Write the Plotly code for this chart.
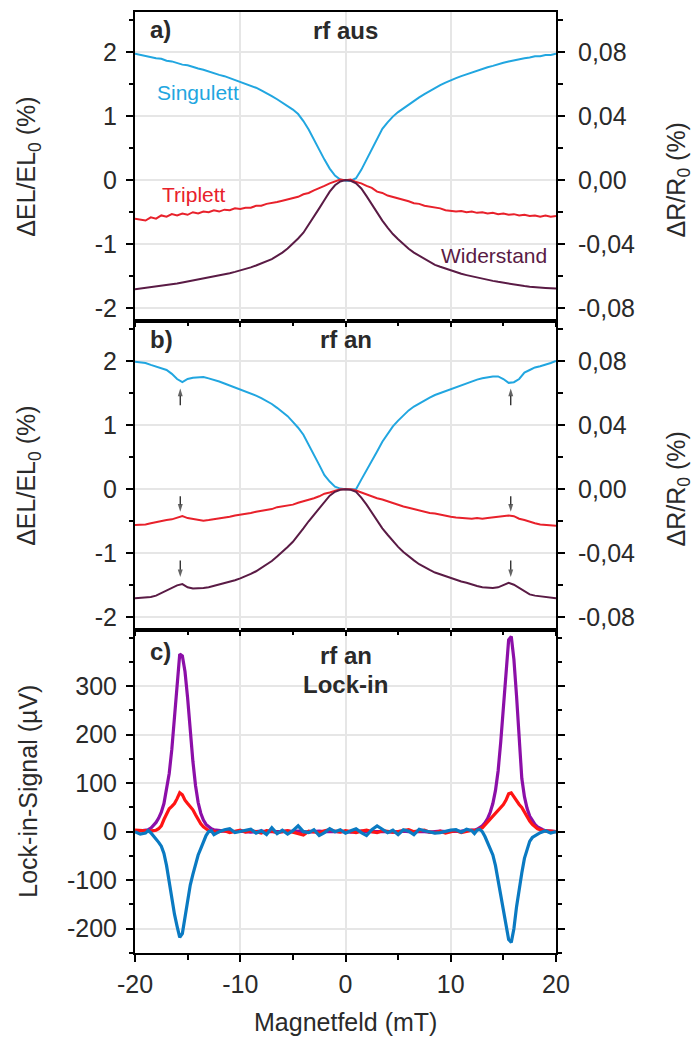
import plotly.graph_objects as go

# ---------------- data ----------------
# Magnetic field grid for panels a) and b) (mT)
field_ab = [-20, -19.5, -19, -18.5, -18, -17.5, -17, -16.5, -16, -15.5,
            -15, -14.5, -14, -13.5, -13, -12.5, -12, -11.5, -11, -10.5,
            -10, -9.5, -9, -8.5, -8, -7.5, -7, -6.5, -6, -5.5,
            -5, -4.5, -4, -3.5, -3, -2.5, -2, -1.5, -1, -0.5,
            0, 0.5, 1, 1.5, 2, 2.5, 3, 3.5, 4, 4.5,
            5, 5.5, 6, 6.5, 7, 7.5, 8, 8.5, 9, 9.5,
            10, 10.5, 11, 11.5, 12, 12.5, 13, 13.5, 14, 14.5,
            15, 15.5, 16, 16.5, 17, 17.5, 18, 18.5, 19, 19.5, 20]

# a) rf off: electroluminescence change (%) and resistance change (%)
singulett_aus = [1.97, 1.95, 1.94, 1.92, 1.90, 1.89, 1.86, 1.85, 1.82, 1.80,
                 1.79, 1.76, 1.74, 1.72, 1.69, 1.67, 1.64, 1.62, 1.59, 1.57,
                 1.54, 1.51, 1.47, 1.44, 1.40, 1.36, 1.31, 1.26, 1.21, 1.16,
                 1.10, 1.03, 0.92, 0.79, 0.63, 0.47, 0.32, 0.18, 0.07, 0.01,
                 -0.01, -0.01, 0.03, 0.16, 0.32, 0.50, 0.66, 0.80, 0.90, 0.99,
                 1.06, 1.12, 1.18, 1.24, 1.29, 1.34, 1.39, 1.44, 1.48, 1.52,
                 1.56, 1.59, 1.62, 1.65, 1.68, 1.71, 1.74, 1.76, 1.78, 1.81,
                 1.83, 1.85, 1.87, 1.88, 1.90, 1.91, 1.93, 1.93, 1.95, 1.95, 1.97]
triplett_aus = [-0.60, -0.62, -0.63, -0.58, -0.60, -0.55, -0.57, -0.53, -0.55, -0.52,
                -0.54, -0.50, -0.52, -0.49, -0.50, -0.47, -0.49, -0.46, -0.47, -0.44,
                -0.45, -0.43, -0.43, -0.40, -0.40, -0.37, -0.36, -0.34, -0.32, -0.30,
                -0.28, -0.26, -0.22, -0.20, -0.16, -0.13, -0.09, -0.05, -0.02, 0.01,
                0.00, 0.01, -0.03, -0.05, -0.09, -0.12, -0.18, -0.20, -0.24, -0.26,
                -0.29, -0.31, -0.33, -0.36, -0.37, -0.40, -0.41, -0.43, -0.44, -0.47,
                -0.48, -0.49, -0.48, -0.50, -0.49, -0.51, -0.50, -0.52, -0.51, -0.53,
                -0.52, -0.54, -0.53, -0.55, -0.54, -0.56, -0.55, -0.57, -0.55, -0.57, -0.56]
widerstand_aus = [-0.0680, -0.0676, -0.0672, -0.0668, -0.0664, -0.0658, -0.0652, -0.0648, -0.0644, -0.0638,
                  -0.0632, -0.0626, -0.0620, -0.0612, -0.0604, -0.0598, -0.0592, -0.0586, -0.0580, -0.0572,
                  -0.0564, -0.0554, -0.0544, -0.0532, -0.0520, -0.0506, -0.0492, -0.0472, -0.0452, -0.0426,
                  -0.0396, -0.0364, -0.0328, -0.0280, -0.0228, -0.0176, -0.0124, -0.0072, -0.0032, -0.0008,
                  0.0000, -0.0004, -0.0020, -0.0052, -0.0100, -0.0152, -0.0200, -0.0252, -0.0296, -0.0336,
                  -0.0368, -0.0400, -0.0428, -0.0452, -0.0472, -0.0492, -0.0512, -0.0528, -0.0540, -0.0552,
                  -0.0564, -0.0576, -0.0584, -0.0592, -0.0600, -0.0608, -0.0616, -0.0622, -0.0628, -0.0634,
                  -0.0640, -0.0646, -0.0652, -0.0656, -0.0660, -0.0664, -0.0668, -0.0670, -0.0672, -0.0674, -0.0676]

# b) rf on
singulett_an = [1.99, 1.98, 1.97, 1.94, 1.91, 1.89, 1.86, 1.80, 1.72, 1.67,
                1.72, 1.74, 1.75, 1.75, 1.73, 1.71, 1.68, 1.65, 1.62, 1.59,
                1.56, 1.53, 1.49, 1.46, 1.42, 1.38, 1.33, 1.27, 1.21, 1.14,
                1.05, 0.96, 0.85, 0.70, 0.54, 0.38, 0.22, 0.12, 0.04, 0.01,
                0.00, 0.00, 0.00, 0.15, 0.29, 0.43, 0.59, 0.74, 0.87, 0.98,
                1.07, 1.15, 1.23, 1.29, 1.34, 1.39, 1.43, 1.47, 1.50, 1.54,
                1.57, 1.60, 1.63, 1.66, 1.68, 1.71, 1.73, 1.75, 1.76, 1.76,
                1.72, 1.66, 1.67, 1.72, 1.82, 1.86, 1.90, 1.92, 1.94, 1.97, 2.00]
triplett_an = [-0.56, -0.56, -0.55, -0.53, -0.51, -0.50, -0.48, -0.47, -0.44, -0.42,
               -0.45, -0.46, -0.48, -0.49, -0.48, -0.47, -0.45, -0.44, -0.43, -0.41,
               -0.40, -0.38, -0.37, -0.35, -0.34, -0.32, -0.31, -0.28, -0.27, -0.25,
               -0.24, -0.21, -0.19, -0.17, -0.14, -0.11, -0.07, -0.05, -0.02, 0.00,
               0.00, 0.00, -0.02, -0.05, -0.09, -0.11, -0.14, -0.16, -0.19, -0.21,
               -0.24, -0.27, -0.29, -0.31, -0.34, -0.35, -0.37, -0.38, -0.40, -0.42,
               -0.43, -0.44, -0.45, -0.46, -0.46, -0.45, -0.46, -0.45, -0.44, -0.44,
               -0.43, -0.41, -0.42, -0.46, -0.48, -0.51, -0.53, -0.55, -0.56, -0.57, -0.57]
widerstand_an = [-0.0680, -0.0678, -0.0676, -0.0672, -0.0664, -0.0648, -0.0632, -0.0616, -0.0600, -0.0592,
                 -0.0612, -0.0620, -0.0620, -0.0616, -0.0612, -0.0604, -0.0596, -0.0584, -0.0576, -0.0568,
                 -0.0556, -0.0544, -0.0528, -0.0512, -0.0492, -0.0472, -0.0448, -0.0420, -0.0392, -0.0360,
                 -0.0328, -0.0288, -0.0244, -0.0200, -0.0160, -0.0116, -0.0076, -0.0040, -0.0016, -0.0004,
                 0.0000, -0.0004, -0.0016, -0.0052, -0.0096, -0.0148, -0.0200, -0.0244, -0.0284, -0.0324,
                 -0.0360, -0.0392, -0.0420, -0.0444, -0.0468, -0.0488, -0.0504, -0.0520, -0.0532, -0.0544,
                 -0.0556, -0.0568, -0.0576, -0.0584, -0.0596, -0.0604, -0.0612, -0.0616, -0.0616, -0.0612,
                 -0.0600, -0.0584, -0.0596, -0.0616, -0.0640, -0.0656, -0.0664, -0.0668, -0.0672, -0.0676, -0.0680]

# Resonance markers in b): field position, arrow tail and tip (ΔEL/EL0 units)
marker_fields = [-15.7, 15.7]
marker_tails = [1.31, -0.11, -1.11]
marker_tips = [1.57, -0.35, -1.37]

# c) lock-in signal (µV); finer grid around the resonances
field_c = [-20, -19.5,
           -19, -18.75, -18.5, -18.25, -18, -17.75, -17.5, -17.25, -17, -16.75,
           -16.5, -16.25, -16, -15.75, -15.5, -15.25, -15, -14.75, -14.5, -14.25,
           -14, -13.75, -13.5, -13.25, -13, -12.75, -12.5, -12.25, -12,
           -11.5, -11, -10.5, -10, -9.5, -9, -8.5, -8, -7.5, -7, -6.5, -6, -5.5,
           -5, -4.5, -4, -3.5, -3, -2.5, -2, -1.5, -1, -0.5, 0, 0.5, 1, 1.5, 2,
           2.5, 3, 3.5, 4, 4.5, 5, 5.5, 6, 6.5, 7, 7.5, 8, 8.5, 9, 9.5, 10, 10.5,
           11, 11.5,
           12, 12.25, 12.5, 12.75, 13, 13.25, 13.5, 13.75, 14, 14.25, 14.5, 14.75,
           15, 15.25, 15.5, 15.75, 16, 16.25, 16.5, 16.75, 17, 17.25, 17.5, 17.75,
           18, 18.25, 18.5, 18.75, 19,
           19.5, 20]
lockin_widerstand = [0, 1,
                     2, 4, 7, 12, 19, 28, 40, 58, 85, 120,
                     170, 235, 300, 366, 362, 330, 275, 208, 145, 95,
                     60, 38, 24, 15, 10, 6, 4, 3, 2,
                     1, 1, 0, 1, 0, -1, 0, 1, 0, 0, -1, 0, 1,
                     0, 1, 0, -1, 0, 1, 0, 0, 1, 0, 0, -1, 0, 1, 0,
                     0, 1, 0, 0, -1, 0, 1, 0, 0, 1, 0, -1, 0, 1, 0, 0, 1,
                     1, 2,
                     2, 3, 5, 8, 12, 18, 27, 40, 58, 85, 125, 185,
                     260, 340, 395, 402, 355, 280, 200, 110, 72, 48, 32, 22,
                     15, 10, 6, 4, 2,
                     1, 0]
lockin_triplett = [3, 2,
                   2, 0, 1, 2, 3, 6, 12, 25, 38, 47,
                   52, 58, 68, 80, 76, 65, 58, 52, 45, 35,
                   25, 16, 10, 5, 2, 0, 1, -1, 0,
                   2, -2, 1, 3, -1, 2, 0, -3, 2, 1, -2, 0, 2,
                   -1, -4, -7, 1, 0, -2, 2, 4, 1, -1, 2, 0, -2, 1, 3,
                   0, -2, 2, 1, -1, 0, 2, 4, 0, 1, 3, -1, -2, 1, -3, 0, 2,
                   -2, 1,
                   3, 2, 4, 5, 8, 14, 20, 26, 32, 38, 45, 50,
                   56, 65, 78, 80, 72, 62, 56, 50, 40, 30, 22, 15,
                   10, 6, 4, 2, 1,
                   1, 0]
lockin_singulett = [0, -5,
                    -3, 2, -2, -8, -15, -22, -30, -45, -70, -105,
                    -140, -170, -195, -218, -210, -175, -140, -110, -88, -65,
                    -48, -35, -22, -8, 0, 2, -6, -2, 0,
                    4, 6, -2, 0, 3, 5, -3, 2, -6, 8, -4, 3, -5,
                    2, 12, 0, -2, 4, -8, -2, 6, 0, 4, -3, 2, 6, -2, -8,
                    4, 12, 5, -2, 3, -6, 4, 1, -6, 5, 2, 0, -3, -2, 1, 3, 4,
                    -1, 5,
                    2, -4, 3, 5, 0, -10, -22, -35, -48, -70, -100, -125,
                    -160, -190, -222, -228, -200, -155, -115, -85, -55, -35, -20, -12,
                    -8, -5, -2, 0, 2,
                    -3, 0]

# Tick values / labels
x_ticks = [-20, -10, 0, 10, 20]
x_ticktext = ["-20", "-10", "0", "10", "20"]
x_minor = [-15, -5, 5, 15]
el_ticks = [-2, -1, 0, 1, 2]
el_ticktext = ["-2", "-1", "0", "1", "2"]
el_minor = [-1.5, -0.5, 0.5, 1.5, 2.5]
r_ticks = [-0.08, -0.04, 0.0, 0.04, 0.08]
r_ticktext = ["-0,08", "-0,04", "0,00", "0,04", "0,08"]
r_minor = [-0.06, -0.02, 0.02, 0.06, 0.10]
li_ticks = [-200, -100, 0, 100, 200, 300]
li_ticktext = ["-200", "-100", "0", "100", "200", "300"]
li_minor = [-250, -150, -50, 50, 150, 250, 350, 400]

# ---------------- styling ----------------
C_SING = "#21A6E0"
C_TRIP = "#E8212B"
C_WID = "#5A1B45"
C_LI_W = "#8C0FA8"
C_LI_T = "#FF1414"
C_LI_S = "#0A7AC2"
FONT = "Liberation Sans, Arial, sans-serif"
TXT = "#2a2a2a"
GRID = "#E6E6E6"

EL_RANGE = [-2.2, 2.62]
R_RANGE = [EL_RANGE[0] * 0.04, EL_RANGE[1] * 0.04]
LI_RANGE = [-250, 415]

DOM_C = [0.0, 0.343]
DOM_B = [0.343, 0.6713]
DOM_A = [0.6713, 1.0]

fig = go.Figure()

line_ab = 2.0
line_c = 3.2

# panel a
fig.add_trace(go.Scatter(x=field_ab, y=singulett_aus, mode="lines", xaxis="x3", yaxis="y4",
                         line=dict(color=C_SING, width=line_ab)))
fig.add_trace(go.Scatter(x=field_ab, y=triplett_aus, mode="lines", xaxis="x3", yaxis="y4",
                         line=dict(color=C_TRIP, width=line_ab)))
fig.add_trace(go.Scatter(x=field_ab, y=widerstand_aus, mode="lines", xaxis="x3", yaxis="y5",
                         line=dict(color=C_WID, width=line_ab)))
# panel b
fig.add_trace(go.Scatter(x=field_ab, y=singulett_an, mode="lines", xaxis="x2", yaxis="y2",
                         line=dict(color=C_SING, width=line_ab)))
fig.add_trace(go.Scatter(x=field_ab, y=triplett_an, mode="lines", xaxis="x2", yaxis="y2",
                         line=dict(color=C_TRIP, width=line_ab)))
fig.add_trace(go.Scatter(x=field_ab, y=widerstand_an, mode="lines", xaxis="x2", yaxis="y3",
                         line=dict(color=C_WID, width=line_ab)))
# resonance arrows in panel b
for fx in marker_fields:
    for tail, tip in zip(marker_tails, marker_tips):
        fig.add_trace(go.Scatter(
            x=[fx, fx], y=[tail, tip], mode="lines+markers", xaxis="x2", yaxis="y2",
            line=dict(color="#222222", width=1.3),
            marker=dict(symbol="arrow", angleref="previous", size=[0, 8],
                        color="#222222", line=dict(width=0)),
            hoverinfo="skip"))
# panel c
fig.add_trace(go.Scatter(x=field_c, y=lockin_widerstand, mode="lines", xaxis="x", yaxis="y",
                         line=dict(color=C_LI_W, width=line_c)))
fig.add_trace(go.Scatter(x=field_c, y=lockin_triplett, mode="lines", xaxis="x", yaxis="y",
                         line=dict(color=C_LI_T, width=line_c)))
fig.add_trace(go.Scatter(x=field_c, y=lockin_singulett, mode="lines", xaxis="x", yaxis="y",
                         line=dict(color=C_LI_S, width=line_c)))

tickfont = dict(family=FONT, size=25, color=TXT)


def x_axis(anchor, labels, ticklen):
    return dict(
        domain=[0, 1], anchor=anchor, range=[-20, 20],
        tickmode="array", tickvals=x_ticks, ticktext=x_ticktext,
        showticklabels=labels, ticks="outside", ticklen=ticklen, tickwidth=2,
        tickcolor="black", tickfont=tickfont, ticklabelstandoff=1,
        minor=dict(tickmode="array", tickvals=x_minor, ticks="outside",
                   ticklen=max(ticklen - 2, 3), tickwidth=2, tickcolor="black", showgrid=False),
        showline=True, linecolor="black", linewidth=2, mirror=True,
        showgrid=True, gridcolor=GRID, gridwidth=1.5, zeroline=False,
    )


def y_left(anchor, domain, rng, vals, text, minor, mirror=True):
    return dict(
        domain=domain, anchor=anchor, range=rng, side="left",
        tickmode="array", tickvals=vals, ticktext=text,
        ticks="outside", ticklen=7, tickwidth=2, tickcolor="black",
        tickfont=tickfont, ticklabelstandoff=4,
        minor=dict(tickmode="array", tickvals=minor, ticks="outside", ticklen=4,
                   tickwidth=2, tickcolor="black", showgrid=False),
        showline=True, linecolor="black", linewidth=2, mirror=mirror,
        showgrid=True, gridcolor=GRID, gridwidth=1.5, zeroline=False,
    )


def y_right(anchor, overlay, rng):
    return dict(
        anchor=anchor, overlaying=overlay, side="right", range=rng,
        tickmode="array", tickvals=r_ticks, ticktext=r_ticktext,
        ticks="outside", ticklen=7, tickwidth=2, tickcolor="black",
        tickfont=tickfont, ticklabelstandoff=8,
        minor=dict(tickmode="array", tickvals=r_minor, ticks="outside", ticklen=5,
                   tickwidth=2, tickcolor="black", showgrid=False),
        showline=True, linecolor="black", linewidth=2,
        showgrid=False, zeroline=False,
    )


fig.update_layout(
    width=694, height=1041,
    margin=dict(l=135, r=138, t=10, b=88),
    paper_bgcolor="white", plot_bgcolor="white",
    showlegend=False,
    xaxis=x_axis("y", True, 7),
    xaxis2=x_axis("y2", False, 4),
    xaxis3=x_axis("y4", False, 4),
    yaxis=y_left("x", DOM_C, LI_RANGE, li_ticks, li_ticktext, li_minor, mirror="allticks"),
    yaxis2=y_left("x2", DOM_B, EL_RANGE, el_ticks, el_ticktext, el_minor, mirror=False),
    yaxis3=y_right("x2", "y2", R_RANGE),
    yaxis4=y_left("x3", DOM_A, EL_RANGE, el_ticks, el_ticktext, el_minor, mirror=False),
    yaxis5=y_right("x3", "y4", R_RANGE),
)

ann = []
title_font = dict(family=FONT, size=25, color=TXT)
lab_font = dict(family=FONT, size=24, color=TXT)


def mid(d):
    return (d[0] + d[1]) / 2


# axis titles
for dom in (DOM_A, DOM_B):
    ann.append(dict(text="ΔEL/EL<sub>0</sub> (%)", xref="paper", yref="paper", x=-0.254, y=mid(dom),
                    textangle=-90, showarrow=False, font=title_font, xanchor="center", yanchor="middle"))
    ann.append(dict(text="ΔR/R<sub>0</sub> (%)", xref="paper", yref="paper", x=1.29, y=mid(dom) - 0.0145,
                    textangle=-90, showarrow=False, font=title_font, xanchor="center", yanchor="middle"))
ann.append(dict(text="Lock-in-Signal (µV)", xref="paper", yref="paper", x=-0.254, y=mid(DOM_C),
                textangle=-90, showarrow=False, font=title_font, xanchor="center", yanchor="middle"))
ann.append(dict(text="Magnetfeld (mT)", xref="paper", yref="paper", x=0.5, y=-0.0735,
                showarrow=False, font=title_font, xanchor="center", yanchor="middle"))

# panel labels and headings
for lbl, yy in (("a)", 0.9815), ("b)", 0.652), ("c)", 0.3205)):
    ann.append(dict(text=f"<b>{lbl}</b>", xref="paper", yref="paper", x=0.031, y=yy,
                    showarrow=False, font=lab_font, xanchor="left", yanchor="middle"))
for txt, yy in (("rf aus", 0.9806), ("rf an", 0.652), ("rf an", 0.3157), ("Lock-in", 0.2851)):
    ann.append(dict(text=f"<b>{txt}</b>", xref="paper", yref="paper", x=0.5, y=yy,
                    showarrow=False, font=lab_font, xanchor="center", yanchor="middle"))

# curve names in panel a
curve_font = dict(family=FONT, size=21)
ann.append(dict(text="Singulett", xref="x3", yref="y4", x=-14.06, y=1.37, showarrow=False,
                font=dict(curve_font, color=C_SING)))
ann.append(dict(text="Triplett", xref="x3", yref="y4", x=-14.4, y=-0.23, showarrow=False,
                font=dict(curve_font, color=C_TRIP)))
ann.append(dict(text="Widerstand", xref="x3", yref="y4", x=14.1, y=-1.17, showarrow=False,
                font=dict(curve_font, color=C_WID)))

fig.update_layout(annotations=ann)

fig.write_html("out.html")
